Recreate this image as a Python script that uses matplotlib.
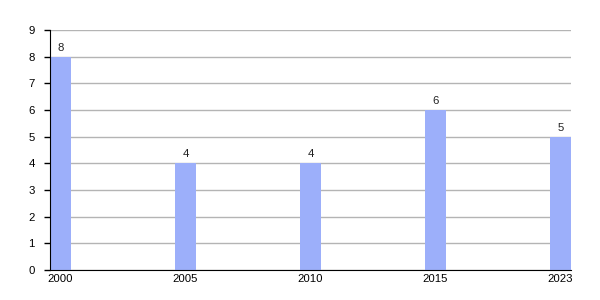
import matplotlib
matplotlib.use('Agg')
import matplotlib.pyplot as plt
import numpy as np

years = ['2000', '2005', '2010', '2015', '2023']
values = [8, 4, 4, 6, 5]
y_ticks = list(range(0, 10))

BAR_COLOR = '#9caffa'
GRID_COLOR = '#b4b4b4'

plt.rcParams['font.family'] = ['Liberation Sans', 'DejaVu Sans']

fig = plt.figure(figsize=(6, 3), dpi=100)
ax = fig.add_axes([50 / 600, 30 / 300, 521 / 600, 240 / 300])

x = np.arange(len(years))
width = 0.168
ax.bar(x, values, width=width, color=BAR_COLOR, zorder=2)

for xi, v in zip(x, values):
    ax.annotate(str(v), (xi, v), xytext=(0, 3), textcoords='offset points',
                ha='center', va='bottom', fontsize=8.2, color='#222222')

ax.set_xlim(-width / 2, len(years) - 1 + width / 2)
ax.set_ylim(0, 9)
ax.set_yticks(y_ticks)
ax.set_xticks(x)
ax.set_xticklabels(years)

ax.yaxis.grid(True, color=GRID_COLOR, lw=1, zorder=0)
ax.set_axisbelow(True)

for side in ('top', 'right'):
    ax.spines[side].set_visible(False)
ax.spines['left'].set_color('black')
ax.spines['bottom'].set_color('black')

ax.tick_params(axis='y', length=4, width=1, pad=7, labelsize=8.2, colors='black')
ax.tick_params(axis='x', length=0, pad=3, labelsize=8.2, colors='black')

fig.savefig('out.png', dpi=100, facecolor='white')
